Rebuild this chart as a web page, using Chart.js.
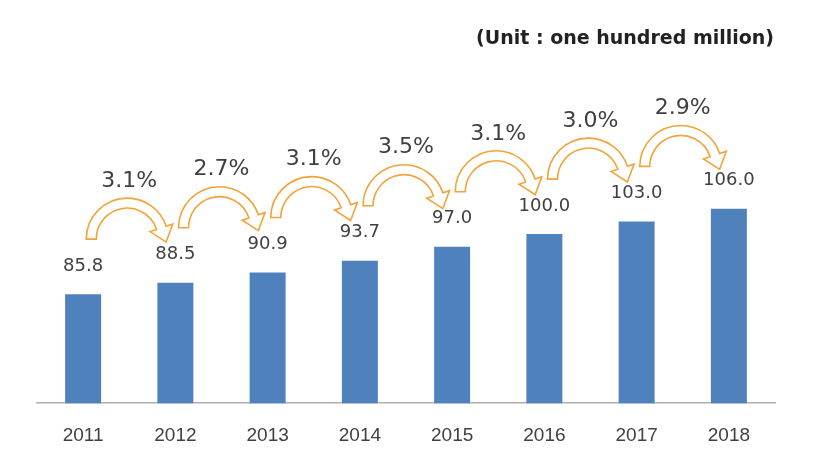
<!DOCTYPE html>
<html>
<head>
<meta charset="utf-8">
<script src="https://cdn.jsdelivr.net/npm/chart.js@4"></script>
<style>
  html, body { margin: 0; padding: 0; background: #fff; }
  #wrap { width: 823px; height: 463px; position: relative; }
</style>
</head>
<body>
<div id="wrap"><canvas id="chart" width="823" height="463"></canvas></div>
<script>
// chart data
const years = ["2011", "2012", "2013", "2014", "2015", "2016", "2017", "2018"];
const values = [85.8, 88.5, 90.9, 93.7, 97.0, 100.0, 103.0, 106.0];
const growth = ["3.1%", "2.7%", "3.1%", "3.5%", "3.1%", "3.0%", "2.9%"];
const unitText = "(Unit : one hundred million)";

const barColor = "#4f81bd";
const arrowColor = "#f2a33a";
const textColor = "#404040";


// draws value labels, growth arrows and the unit text
const annotations = {
    id: "annotations",
    afterDatasetsDraw(chart){
        const ctx = chart.ctx;
        const meta = chart.getDatasetMeta(0);
        const yScale = chart.scales.y;

        ctx.save();

        // value labels over bars
        ctx.fillStyle = textColor;
        ctx.font = "18px 'DejaVu Sans'";
        ctx.textAlign = "center";
        ctx.textBaseline = "middle";
        meta.data.forEach((bar, i) => {
            ctx.fillText(values[i].toFixed(1), bar.x, bar.y - 28);
        });

        // curved arrows and growth rates
        for(let i = 0; i < growth.length; i++){
            const a = meta.data[i];
            const b = meta.data[i + 1];
            const cx = (a.x + b.x) / 2 - 2;
            const topY = yScale.getPixelForValue(values[i]);
            const cy = topY - 55;
            const r = (b.x - a.x) * 0.39;
            drawArrow(ctx, cx, cy, r, 5);

            ctx.fillStyle = textColor;
            ctx.font = "22px 'DejaVu Sans'";
            ctx.fillText(growth[i], (a.x + b.x) / 2, topY - 113);
        }

        // unit text
        ctx.font = "bold 19px 'DejaVu Sans'";
        ctx.textAlign = "right";
        ctx.fillStyle = "#222";
        ctx.fillText(unitText, 774, 39);

        ctx.restore();
    }
};


function drawArrow(ctx, cx, cy, r, hw){

    const start = Math.PI;
    const end = 2 * Math.PI - 0.32;
    const head = 15;

    const px = cx + r * Math.cos(end);
    const py = cy + r * Math.sin(end);
    const tx = -Math.sin(end);
    const ty = Math.cos(end);
    const nx = Math.cos(end);
    const ny = Math.sin(end);

    ctx.beginPath();
    ctx.arc(cx, cy, r + hw, start, end, false);
    ctx.lineTo(px + nx * (hw + 7), py + ny * (hw + 7));
    ctx.lineTo(px + tx * head, py + ty * head);
    ctx.lineTo(px - nx * (hw + 7), py - ny * (hw + 7));
    ctx.arc(cx, cy, r - hw, end, start, true);
    ctx.closePath();

    ctx.fillStyle = "#ffffff";
    ctx.fill();
    ctx.lineWidth = 1.6;
    ctx.strokeStyle = arrowColor;
    ctx.stroke();
}


new Chart(document.getElementById("chart"), {
    type: "bar",
    data: {
        labels: years,
        datasets: [
            {
                data: values,
                backgroundColor: barColor,
                barPercentage: 0.39,
                categoryPercentage: 1.0
            }
        ]
    },
    options: {
        responsive: false,
        animation: false,
        layout: {
            padding: { left: 37, right: 48, top: 65, bottom: -5 }
        },
        plugins: {
            legend: { display: false },
            tooltip: { enabled: false }
        },
        scales: {
            x: {
                grid: { display: false, drawTicks: false },
                border: { display: true, color: "#b0b0b0", width: 1.5 },
                ticks: {
                    color: textColor,
                    padding: 21,
                    font: { family: "'Liberation Sans Narrow', 'Liberation Sans'", size: 19 }
                }
            },
            y: {
                display: false,
                min: 60,
                max: 140
            }
        }
    },
    plugins: [annotations]
});
</script>
</body>
</html>
